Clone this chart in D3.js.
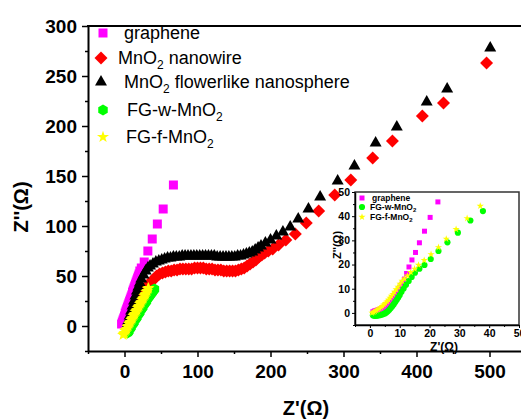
<!DOCTYPE html>
<html><head><meta charset="utf-8">
<script src="https://cdn.jsdelivr.net/npm/d3@7"></script>
<style>body{margin:0;background:#fff}svg{display:block}</style>
</head><body><svg id="c" width="521" height="419"></svg>
<script>
// ---------- DATA ----------
const seriesNames = ["graphene", "MnO2 nanowire", "MnO2 flowerlike nanosphere", "FG-w-MnO2", "FG-f-MnO2"];
const seriesColors = ["#ff00ff", "#ff0000", "#000000", "#00ff00", "#ffff00"];

const grapheneX = [-4,-3,-2,-1,0,1,2,3,4,5,6,7,8,9,10,11,12,13,14,15,16,17,18,19,20,21,23,27,32,38,45,53,67];
const grapheneY = [2,4,6,8,10,13,15,17,19,21,23,25,27,29,31,34,36,38,40,42,44,46,48,50,52,55,58,64,75,87,102,117,141];

const nanowireX = [6,9,12,15,18,21,24,27,30,33,36,39,42,
  44,48,52,56,60,64,68,72,76,80,84,88,92,96,100,104,108,112,116,120,124,128,132,136,140,144,148,152,156,160,164,168,172,176,180,184,188,192,
  197,203,211,221,234,249,266,288,310,340,367,408,437,496];
const nanowireY = [0,6,12,18,23,28,32,36,39,42,44,46,48,
  50,52,53,54,55,55,56,56,57,57,57,57,57,58,58,58,58,57,57,57,56,56,56,55,55,55,55,55,56,57,58,60,62,64,66,69,71,73,
  75,77,81,86,92,103,115,131,146,168,185,210,223,263];

const flowerX = [3,5,7,9,11,13,15,17,19,21,23,26,29,32,35,
  39,43,47,51,55,59,63,67,71,75,79,83,87,91,95,99,103,107,111,115,119,123,127,131,135,139,143,147,151,155,159,163,167,171,175,179,183,187,
  193,200,208,217,227,238,252,268,292,315,344,373,414,442,501];
const flowerY = [0,5,10,15,20,25,30,35,39,43,47,51,55,58,60,
  62,64,65,66,67,68,68,69,69,69,70,70,70,70,70,70,70,70,70,70,70,70,69,69,69,69,69,69,69,70,70,71,72,73,74,76,78,80,
  83,86,90,94,99,107,117,129,145,160,183,199,224,237,278];

const fgwX = [4,5,6,7,8,9,10,11,12,13,14,15,16,17,18,19,20,21,22,23,24,25,26,27,28,29,30,31,32,33,34,35,36,37,38,39,40,41];
const fgwY = [-7,-6,-5,-3,-2,-1,1,2,3,4,6,7,8,9,11,12,13,14,16,17,18,19,21,22,23,24,25,27,28,29,30,31,32,33,34,35,36,37];

const fgfX = [-2,-1,0,1,2,3,4,5,6,7,8,9,10,11,12,13,14,15,16,17,18,19,20,21,22,23,24,25,26,27,28,29,30,31,32,33];
const fgfY = [-9,-8,-7,-5,-4,-3,-1,0,2,3,4,6,7,8,10,11,12,14,15,16,18,19,20,22,23,24,26,27,28,30,31,32,34,35,37,38];

// inset
const insetNames = ["graphene", "FG-w-MnO2", "FG-f-MnO2"];
const insetGrapheneX = [1,1.5,2,2.5,3,3.5,4,4.5,5,5.5,6,6.5,7,7.5,8,8.5,9,9.5,10,10.5,11,11.6,12.3,13.1,14.1,15.3,16.6,18.3,20.2,22.8];
const insetGrapheneY = [0.5,0.8,1,1.2,1.4,1.6,1.9,2.2,2.6,3,3.5,4.1,4.8,5.6,6.5,7.4,8.4,9.4,10.4,11.5,12.6,14,16.3,19,21.9,25,29,33.8,39.5,45.9];
const insetFgwX = [1,1.5,2,2.5,3,3.5,4,4.5,5,5.5,6,6.5,7,7.5,8,8.5,9,9.5,10,10.6,11.3,12.1,13,14,15.1,16.6,18.3,20.4,23,26,29.5,33.7,37.9];
const insetFgwY = [-1,-1.2,-1.2,-1.1,-1,-0.9,-0.7,-0.5,-0.2,0.2,0.7,1.3,2,2.8,3.6,4.5,5.4,6.4,7.4,8.7,10.1,11.6,13.2,14.9,16.6,18.3,19.8,22.3,25.6,29.2,33.2,38.2,42.1];
const insetFgfX = [0.7,1.2,1.7,2.2,2.7,3.2,3.7,4.2,4.7,5.2,5.7,6.2,6.7,7.2,7.7,8.2,8.8,9.4,10.1,10.8,11.6,12.6,13.7,15,16.3,18.2,20.5,23,25.6,28.9,32.6,37];
const insetFgfY = [0,0.3,0.6,1,1.4,1.8,2.3,2.8,3.4,4,4.7,5.4,6.2,7,7.8,8.7,9.7,10.8,12,13.2,14.2,15.4,16.8,18.2,19.8,21.8,24.2,27.1,30.6,34.6,39.1,44.2];

const xTicks = [0,100,200,300,400,500];
const xMinor = [-50,50,150,250,350,450,550];
const yTicks = [0,50,100,150,200,250,300];
const yMinor = [-25,25,75,125,175,225,275];
const insetTicks = [0,10,20,30,40,50];
const insetMinor = [-5,5,15,25,35,45];

// ---------- DRAWING ----------
const FONT = "'Liberation Sans', Arial, Helvetica, sans-serif";
const svg = d3.select("#c");
svg.append("rect").attr("width",521).attr("height",419).attr("fill","#fff");

const diamond = {draw(ctx,size){const h=Math.sqrt(size/2);ctx.moveTo(0,-h);ctx.lineTo(h,0);ctx.lineTo(0,h);ctx.lineTo(-h,0);ctx.closePath();}};
const hexagon = {draw(ctx,size){const r=Math.sqrt(size/(3*Math.sqrt(3)/2));for(let i=0;i<6;i++){const a=Math.PI/6+i*Math.PI/3;const px=r*Math.cos(a),py=r*Math.sin(a);if(i===0)ctx.moveTo(px,py);else ctx.lineTo(px,py);}ctx.closePath();}};

const mainTypes = [d3.symbolSquare, diamond, d3.symbolTriangle, hexagon, d3.symbolStar];
const mainSizes = [81, 84, 62, 78, 45];

const x = d3.scaleLinear().domain([-50,550]).range([88,526]);
const y = d3.scaleLinear().domain([-25,300]).range([351,26]);

function styleAxis(g, fs){
  g.select(".domain").attr("stroke","#000").attr("stroke-width",2);
  g.selectAll(".tick line").attr("stroke","#000").attr("stroke-width",1.5);
  g.selectAll("text").attr("font-family",FONT).attr("font-weight","bold").attr("font-size",fs).attr("fill","#000");
}

// frame top/right
svg.append("line").attr("x1",87).attr("x2",527).attr("y1",26).attr("y2",26).attr("stroke","#000").attr("stroke-width",2);
svg.append("line").attr("x1",526).attr("x2",526).attr("y1",26).attr("y2",351).attr("stroke","#000").attr("stroke-width",2);

const gxMin = svg.append("g").attr("transform","translate(0,351)")
  .call(d3.axisBottom(x).tickValues(xMinor).tickSize(3).tickFormat("").tickSizeOuter(0));
gxMin.select(".domain").remove(); gxMin.selectAll("line").attr("stroke-width",1.5);
const gx = svg.append("g").attr("transform","translate(0,351)")
  .call(d3.axisBottom(x).tickValues(xTicks).tickSize(6).tickPadding(8).tickSizeOuter(0));
styleAxis(gx,19);

const gyMin = svg.append("g").attr("transform","translate(88,0)")
  .call(d3.axisLeft(y).tickValues(yMinor).tickSize(3).tickFormat("").tickSizeOuter(0));
gyMin.select(".domain").remove(); gyMin.selectAll("line").attr("stroke-width",1.5);
const gy = svg.append("g").attr("transform","translate(88,0)")
  .call(d3.axisLeft(y).tickValues(yTicks).tickSize(6).tickPadding(5).tickSizeOuter(0));
styleAxis(gy,19);

// axis titles
svg.append("text").attr("x",306).attr("y",415).attr("text-anchor","middle")
  .attr("font-family",FONT).attr("font-weight","bold").attr("font-size",20).text("Z'(Ω)");
svg.append("text").attr("transform","translate(28,207) rotate(-90)").attr("text-anchor","middle")
  .attr("font-family",FONT).attr("font-weight","bold").attr("font-size",20).text("Z''(Ω)");

// main data
const mainData = [
  [grapheneX, grapheneY], [nanowireX, nanowireY], [flowerX, flowerY], [fgwX, fgwY], [fgfX, fgfY]
];
const plot = svg.append("g");
mainData.forEach(([xs, ys], i) => {
  const pts = xs.map((v,j)=>[v, ys[j]]);
  plot.append("g").selectAll("path").data(pts).join("path")
    .attr("transform", d => `translate(${x(d[0])},${y(d[1])})`)
    .attr("d", d3.symbol().type(mainTypes[i]).size(mainSizes[i]))
    .attr("fill", seriesColors[i]);
});

// legend
const legendRows = [
  {cy:33, mx:103, tx:124, parts:[["graphene",0]]},
  {cy:58, mx:101, tx:118, parts:[["MnO",0],["2",1],[" nanowire",0]]},
  {cy:82, mx:101, tx:124, parts:[["MnO",0],["2",1],[" flowerlike nanosphere",0]]},
  {cy:110, mx:103, tx:127, parts:[["FG-w-MnO",0],["2",1]]},
  {cy:137, mx:103, tx:126, parts:[["FG-f-MnO",0],["2",1]]}
];
const lg = svg.append("g");
legendRows.forEach((r,i)=>{
  lg.append("path").attr("transform",`translate(${r.mx},${r.cy})`)
    .attr("d", d3.symbol().type(mainTypes[i]).size(mainSizes[i])).attr("fill", seriesColors[i]);
  const t = lg.append("text").attr("x",r.tx).attr("y",r.cy+6).attr("font-family",FONT).attr("font-size",18).attr("fill","#000");
  let sub=false;
  r.parts.forEach(([s,isSub])=>{
    const ts = t.append("tspan").text(s);
    if(isSub && !sub){ts.attr("dy",5).attr("font-size",12); sub=true;}
    else if(!isSub && sub){ts.attr("dy",-5); sub=false;}
  });
});

// ---------- INSET ----------
const xi = d3.scaleLinear().domain([-5,50]).range([355,519]);
const yi = d3.scaleLinear().domain([-5,50]).range([325,192]);
svg.append("rect").attr("x",355).attr("y",192).attr("width",164).attr("height",133).attr("fill","#fff");
svg.append("rect").attr("x",355).attr("y",192).attr("width",164).attr("height",133)
  .attr("fill","none").attr("stroke","#333").attr("stroke-width",1.5);

const gixMin = svg.append("g").attr("transform","translate(0,325)")
  .call(d3.axisBottom(xi).tickValues(insetMinor).tickSize(2).tickFormat("").tickSizeOuter(0));
gixMin.select(".domain").remove();
const gix = svg.append("g").attr("transform","translate(0,325)")
  .call(d3.axisBottom(xi).tickValues(insetTicks).tickSize(3).tickPadding(2).tickSizeOuter(0));
styleAxis(gix,10.5); gix.select(".domain").attr("stroke-width",1.5);
gix.selectAll(".tick line").attr("stroke-width",1);

const giyMin = svg.append("g").attr("transform","translate(355,0)")
  .call(d3.axisLeft(yi).tickValues(insetMinor).tickSize(2).tickFormat("").tickSizeOuter(0));
giyMin.select(".domain").remove();
const giy = svg.append("g").attr("transform","translate(355,0)")
  .call(d3.axisLeft(yi).tickValues(insetTicks).tickSize(3).tickPadding(2).tickSizeOuter(0));
styleAxis(giy,10.5); giy.select(".domain").attr("stroke-width",1.5);
giy.selectAll(".tick line").attr("stroke-width",1);

svg.append("text").attr("x",444).attr("y",351).attr("text-anchor","middle")
  .attr("font-family",FONT).attr("font-weight","bold").attr("font-size",12).text("Z'(Ω)");
svg.append("text").attr("transform","translate(341,245) rotate(-90)").attr("text-anchor","middle")
  .attr("font-family",FONT).attr("font-weight","bold").attr("font-size",11).text("Z''(Ω)");

const insetTypes = [d3.symbolSquare, d3.symbolCircle, d3.symbolStar];
const insetSizes = [25, 30, 16];
const insetColors = ["#ff00ff", "#00ff00", "#ffff00"];
const insetData = [[insetGrapheneX, insetGrapheneY],[insetFgwX, insetFgwY],[insetFgfX, insetFgfY]];
insetData.forEach(([xs, ys], i)=>{
  const pts = xs.map((v,j)=>[v, ys[j]]);
  svg.append("g").selectAll("path").data(pts).join("path")
    .attr("transform", d => `translate(${xi(d[0])},${yi(d[1])})`)
    .attr("d", d3.symbol().type(insetTypes[i]).size(insetSizes[i]))
    .attr("fill", insetColors[i]);
});

// inset legend
const insetLegend = [
  {cy:198, tx:372, parts:[["graphene",0]]},
  {cy:207, tx:370, parts:[["FG-w-MnO",0],["2",1]]},
  {cy:217, tx:370, parts:[["FG-f-MnO",0],["2",1]]}
];
insetLegend.forEach((r,i)=>{
  svg.append("path").attr("transform",`translate(362,${r.cy})`)
    .attr("d", d3.symbol().type(insetTypes[i]).size(insetSizes[i])).attr("fill", insetColors[i]);
  const t = svg.append("text").attr("x",r.tx).attr("y",r.cy+3).attr("font-family",FONT)
    .attr("font-weight","bold").attr("font-size",8.5).attr("fill","#000");
  r.parts.forEach(([s,isSub])=>{
    const ts=t.append("tspan").text(s);
    if(isSub) ts.attr("dy",2).attr("font-size",6);
  });
});
</script></body></html>
